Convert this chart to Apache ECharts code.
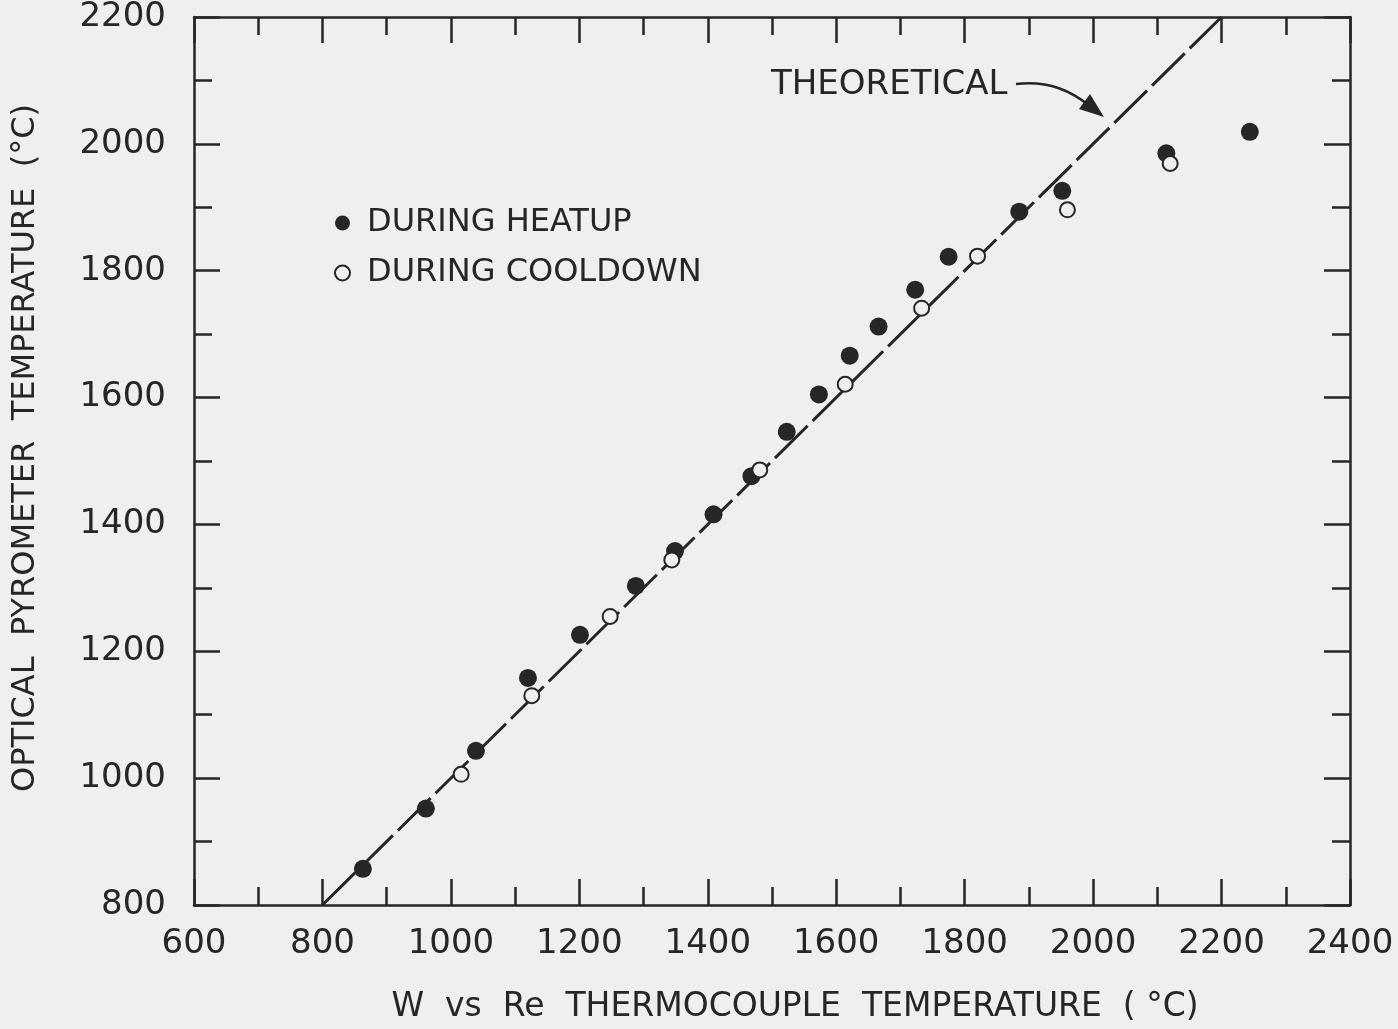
<!DOCTYPE html>
<html>
<head>
<meta charset="utf-8">
<title>Optical pyrometer vs W-Re thermocouple</title>
<script src="https://cdn.jsdelivr.net/npm/echarts@6/dist/echarts.min.js"></script>
<style>
  html, body { margin: 0; padding: 0; background: #efefed; }
  #chart { width: 1398px; height: 1029px; }
</style>
</head>
<body>
<div id="chart"></div>
<script>
// W vs Re thermocouple temperature (x) / optical pyrometer temperature (y), deg C
var heatupX = [863, 961, 1039, 1120, 1201, 1288, 1349, 1409, 1468, 1523, 1573, 1621, 1666, 1723, 1775, 1885, 1952, 2114, 2244];
var heatupY = [857, 952, 1043, 1158, 1226, 1303, 1358, 1416, 1476, 1546, 1605, 1666, 1712, 1770, 1822, 1893, 1926, 1985, 2019];
var cooldownX = [1016, 1126, 1248, 1344, 1481, 1614, 1733, 1820, 1960, 2120];
var cooldownY = [1006, 1130, 1255, 1344, 1486, 1621, 1741, 1823, 1896, 1969];
var theoryX = [800, 2200];
var theoryY = [800, 2200];

var ink = '#262626';
var paper = '#efefed';
var font = 'DejaVu Sans';

function pairs(xs, ys) {
  return xs.map(function (x, i) { return [x, ys[i]]; });
}

var chart = echarts.init(document.getElementById('chart'));

var baseAxis = {
  type: 'value',
  interval: 200,
  axisLine: { show: true, lineStyle: { color: ink, width: 2.5 } },
  axisTick: { show: true, inside: true, length: 26, lineStyle: { color: ink, width: 2.5 } },
  minorTick: { show: true, splitNumber: 2, length: 18, lineStyle: { color: ink, width: 2.5 } },
  splitLine: { show: false },
  minorSplitLine: { show: false }
};

var plain = function (v) { return String(v); };

chart.setOption({
  backgroundColor: paper,
  animation: false,
  textStyle: { fontFamily: font, color: ink },
  grid: { left: 194, right: 48, top: 15, bottom: 124 },
  legend: {
    data: ['DURING HEATUP', 'DURING COOLDOWN'],
    orient: 'vertical',
    left: 329,
    top: 202,
    itemGap: 18,
    itemWidth: 15,
    itemHeight: 15,
    textStyle: { fontFamily: font, fontSize: 32, color: ink, padding: [0, 0, 0, 12] }
  },
  xAxis: [
    Object.assign({}, baseAxis, {
      min: 600, max: 2400,
      name: 'W  vs  Re  THERMOCOUPLE  TEMPERATURE  ( °C)',
      nameLocation: 'middle',
      nameGap: 86,
      nameTextStyle: { fontFamily: font, fontSize: 33, color: ink, padding: [0, 0, 0, 46] },
      axisLabel: { margin: 22, fontSize: 34, color: ink, fontFamily: font, formatter: plain }
    }),
    Object.assign({}, baseAxis, {
      min: 600, max: 2400, position: 'top',
      axisLabel: { show: false }
    })
  ],
  yAxis: [
    Object.assign({}, baseAxis, {
      min: 800, max: 2200,
      name: 'OPTICAL  PYROMETER  TEMPERATURE  (°C)',
      nameLocation: 'middle',
      nameGap: 152,
      nameTextStyle: { fontFamily: font, fontSize: 32, color: ink, padding: [0, 0, 0, 26] },
      axisLabel: { margin: 28, fontSize: 34, color: ink, fontFamily: font, formatter: plain }
    }),
    Object.assign({}, baseAxis, {
      min: 800, max: 2200, position: 'right',
      axisLabel: { show: false }
    })
  ],
  series: [
    {
      name: 'THEORETICAL',
      type: 'line',
      data: pairs(theoryX, theoryY),
      symbol: 'none',
      lineStyle: { color: ink, width: 3, type: [46, 7] },
      z: 1
    },
    {
      name: 'DURING HEATUP',
      type: 'scatter',
      data: pairs(heatupX, heatupY),
      symbol: 'circle',
      symbolSize: 18,
      itemStyle: { color: ink, opacity: 1 },
      z: 3
    },
    {
      name: 'DURING COOLDOWN',
      type: 'scatter',
      data: pairs(cooldownX, cooldownY),
      symbol: 'circle',
      symbolSize: 15,
      itemStyle: { color: paper, borderColor: ink, borderWidth: 2, opacity: 1 },
      z: 4
    }
  ],
  graphic: [
    {
      type: 'text',
      left: 771,
      top: 68,
      style: { text: 'THEORETICAL', fontFamily: font, fontSize: 34, fill: ink }
    },
    {
      type: 'bezierCurve',
      shape: { x1: 1016, y1: 84, cpx1: 1050, cpy1: 80, cpx2: 1072, cpy2: 92, x2: 1090, y2: 106 },
      style: { stroke: ink, lineWidth: 2.5, fill: null }
    },
    {
      type: 'polygon',
      shape: { points: [[1104, 117], [1079, 109], [1090, 94]] },
      style: { fill: ink }
    }
  ]
});
</script>
</body>
</html>
